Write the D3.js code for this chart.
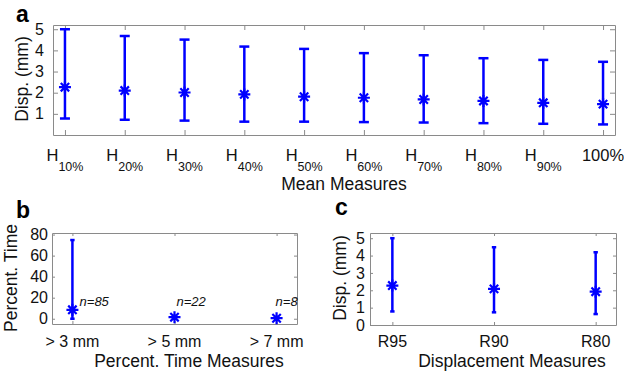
<!DOCTYPE html>
<html>
<head>
<meta charset="utf-8">
<script src="https://cdn.jsdelivr.net/npm/d3@7"></script>
<style>
  body { margin: 0; background: #fff; }
  text { font-family: "Liberation Sans", Arial, sans-serif; }
</style>
</head>
<body>
<div id="chart"></div>
<script>
// panel a: mean measures
var meanTickMain = ["H", "H", "H", "H", "H", "H", "H", "H", "H", "100%"];
var meanTickSub = ["10%", "20%", "30%", "40%", "50%", "60%", "70%", "80%", "90%", ""];
var meanVal = [2.26, 2.10, 2.01, 1.92, 1.81, 1.76, 1.68, 1.61, 1.52, 1.46];
var meanHi = [5.00, 4.68, 4.51, 4.18, 4.07, 3.87, 3.77, 3.63, 3.55, 3.46];
var meanLo = [0.78, 0.72, 0.68, 0.63, 0.63, 0.61, 0.59, 0.56, 0.53, 0.50];
var meanYTicks = [1, 2, 3, 4, 5];

// panel b: percent time measures
var pctCats = ["> 3 mm", "> 5 mm", "> 7 mm"];
var pctVal = [8.5, 1.5, 0.5];
var pctHi = [74.8, 1.5, 0.5];
var pctLo = [0, 1.5, 0.5];
var pctN = ["n=85", "n=22", "n=8"];
var pctNx = [1.07, 2.02, 2.99];
var pctNy = [12, 12, 12];
var pctYTicks = [0, 20, 40, 60, 80];

// panel c: displacement measures
var dispCats = ["R95", "R90", "R80"];
var dispVal = [2.27, 2.08, 1.92];
var dispHi = [5.00, 4.48, 4.19];
var dispLo = [0.78, 0.73, 0.63];
var dispYTicks = [0, 1, 2, 3, 4, 5];

var blue = "#0000ff", axisColor = "#8a8a8a";

var svg = d3.select("#chart").append("svg")
    .attr("width", 624)
    .attr("height", 371);

svg.append("rect").attr("width", 624).attr("height", 371).attr("fill", "#fff");

function starPath(r) {
    var d = r * 0.7;
    return "M" + (-r) + ",0H" + r + "M0," + (-r) + "V" + r +
        "M" + (-d) + "," + (-d) + "L" + d + "," + d +
        "M" + (-d) + "," + d + "L" + d + "," + (-d);
}

function styleAxis(sel) {
    sel.select(".domain").attr("stroke", axisColor);
    sel.selectAll(".tick line").attr("stroke", axisColor);
    sel.selectAll(".tick text").attr("fill", "#111").attr("font-size", 16)
        .attr("font-family", "'Liberation Sans', Arial, sans-serif");
}

function drawPanel(p) {
    var g = svg.append("g");
    var n = p.val.length;
    var idx = d3.range(1, n + 1);

    var x = d3.scaleLinear().domain(p.xDomain).range([p.left, p.right]);
    var y = d3.scaleLinear().domain(p.yDomain).range([p.bottom, p.top]);

    // box with inward ticks on every side
    g.append("g").attr("transform", "translate(0," + p.bottom + ")")
        .call(d3.axisBottom(x).tickValues(idx).tickSizeInner(-p.tick).tickSizeOuter(0).tickFormat(""))
        .call(styleAxis);
    g.append("g").attr("transform", "translate(0," + p.top + ")")
        .call(d3.axisTop(x).tickValues(idx).tickSizeInner(-p.tick).tickSizeOuter(0).tickFormat(""))
        .call(styleAxis);
    g.append("g").attr("transform", "translate(" + p.left + ",0)")
        .call(d3.axisLeft(y).tickValues(p.yTicks).tickFormat(d3.format("d"))
            .tickSizeInner(-p.tick).tickSizeOuter(0).tickPadding(p.pad))
        .call(styleAxis);
    g.append("g").attr("transform", "translate(" + p.right + ",0)")
        .call(d3.axisRight(y).tickValues(p.yTicks).tickSizeInner(-p.tick).tickSizeOuter(0).tickFormat(""))
        .call(styleAxis);

    // error bars
    var bars = g.append("g").attr("stroke", blue).attr("stroke-width", p.barWidth).attr("fill", "none");
    idx.forEach(function(c, i) {
        if (p.hi[i] <= p.lo[i]) return;
        var cx = x(c);
        bars.append("line").attr("x1", cx).attr("x2", cx).attr("y1", y(p.lo[i])).attr("y2", y(p.hi[i]));
        bars.append("line").attr("x1", cx - p.cap).attr("x2", cx + p.cap).attr("y1", y(p.lo[i])).attr("y2", y(p.lo[i]));
        bars.append("line").attr("x1", cx - p.cap).attr("x2", cx + p.cap).attr("y1", y(p.hi[i])).attr("y2", y(p.hi[i]));
    });

    // asterisk markers
    g.append("g").selectAll("path").data(p.val).join("path")
        .attr("transform", function(d, i) { return "translate(" + x(i + 1) + "," + y(d) + ")"; })
        .attr("d", starPath(6))
        .attr("stroke", blue).attr("stroke-width", 2.2).attr("fill", "none");

    // y label
    g.append("text")
        .attr("transform", "translate(" + p.ylabelX + "," + p.ylabelY + ") rotate(-90)")
        .attr("text-anchor", "middle").attr("dominant-baseline", "central")
        .attr("font-size", 17.5).attr("fill", "#111")
        .text(p.ylabel);

    // x label
    g.append("text")
        .attr("x", p.xlabelX).attr("y", p.xlabelY)
        .attr("text-anchor", "middle").attr("font-size", 17.5).attr("fill", "#111")
        .text(p.xlabel);

    // panel letter
    g.append("text")
        .attr("x", p.letterX).attr("y", p.letterY)
        .attr("font-size", 23).attr("font-weight", "bold").attr("fill", "#000")
        .text(p.letter);

    return { g: g, x: x, y: y };
}

// panel a
var pa = drawPanel({
    val: meanVal, hi: meanHi, lo: meanLo, yTicks: meanYTicks,
    xDomain: [0.8, 10.2], yDomain: [0, 5.2],
    left: 53, right: 615, top: 25, bottom: 135,
    tick: 5, pad: 9, cap: 5, barWidth: 2.5,
    ylabel: "Disp. (mm)", ylabelX: 22, ylabelY: 79,
    xlabel: "Mean Measures", xlabelX: 344, xlabelY: 190,
    letter: "a", letterX: 16, letterY: 22
});

var aLabels = pa.g.append("g").selectAll("text").data(meanTickMain).join("text")
    .attr("x", function(d, i) { return pa.x(i + 1); })
    .attr("y", 161)
    .attr("text-anchor", "middle")
    .attr("font-size", 16.5).attr("fill", "#111");
aLabels.append("tspan").text(function(d) { return d; });
aLabels.append("tspan")
    .attr("dy", 10).attr("font-size", 12.5)
    .text(function(d, i) { return meanTickSub[i]; });

// panel b
var pb = drawPanel({
    val: pctVal, hi: pctHi, lo: pctLo, yTicks: pctYTicks,
    xDomain: [0.8, 3.2], yDomain: [-5, 81.5],
    left: 52, right: 297, top: 233, bottom: 324,
    tick: 3, pad: 4, cap: 2.2, barWidth: 2.5,
    ylabel: "Percent. Time", ylabelX: 11, ylabelY: 278,
    xlabel: "Percent. Time Measures", xlabelX: 189, xlabelY: 367,
    letter: "b", letterX: 16, letterY: 218
});

pb.g.append("g").selectAll("text").data(pctCats).join("text")
    .attr("x", function(d, i) { return pb.x(i + 1); })
    .attr("y", 347)
    .attr("text-anchor", "middle")
    .attr("font-size", 16).attr("fill", "#111")
    .text(function(d) { return d; });

pb.g.append("g").selectAll("text").data(pctN).join("text")
    .attr("x", function(d, i) { return pb.x(pctNx[i]); })
    .attr("y", function(d, i) { return pb.y(pctNy[i]); })
    .attr("font-size", 13).attr("font-style", "italic").attr("fill", "#111")
    .text(function(d) { return d; });

// panel c
var pc = drawPanel({
    val: dispVal, hi: dispHi, lo: dispLo, yTicks: dispYTicks,
    xDomain: [0.78, 3.2], yDomain: [0, 5.3],
    left: 370, right: 616, top: 233, bottom: 325,
    tick: 3, pad: 5, cap: 2.2, barWidth: 2.5,
    ylabel: "Disp. (mm)", ylabelX: 340, ylabelY: 278,
    xlabel: "Displacement Measures", xlabelX: 512, xlabelY: 367,
    letter: "c", letterX: 335, letterY: 215
});

pc.g.append("g").selectAll("text").data(dispCats).join("text")
    .attr("x", function(d, i) { return pc.x(i + 1); })
    .attr("y", 347)
    .attr("text-anchor", "middle")
    .attr("font-size", 16).attr("fill", "#111")
    .text(function(d) { return d; });
</script>
</body>
</html>
